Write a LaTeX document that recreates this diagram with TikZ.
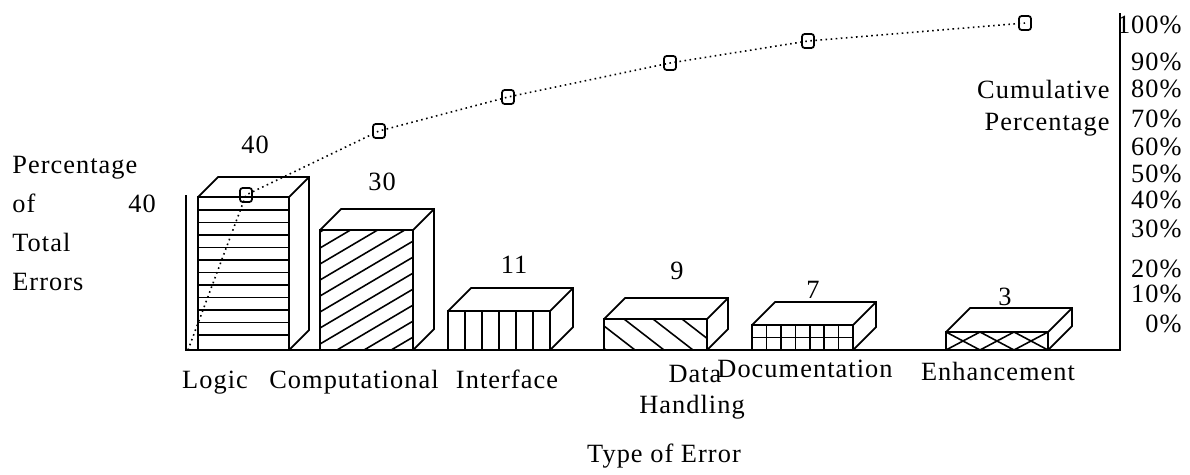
\documentclass[tikz,border=0pt]{standalone}
\usepackage{fontspec}
\setmainfont{Liberation Serif}[LetterSpace=4]
\begin{document}
\begin{tikzpicture}[
    x=0.02cm, y=-0.02cm,
    font=\fontsize{15}{18}\selectfont,
    axis/.style={line width=1pt},
    barline/.style={line width=1pt, line join=miter},
    fillline/.style={line width=0.9pt},
    cumline/.style={line width=0.9pt, dotted},
    cumpt/.style={draw, line width=1pt, rounded corners=1.5pt,
                  minimum width=0.24cm, minimum height=0.28cm, inner sep=0pt},
    val/.style={inner sep=0pt},
    cat/.style={anchor=base, inner sep=0pt},
    lbl/.style={anchor=base west, inner sep=0pt},
    pct/.style={anchor=base east, inner sep=0pt},
  ]
  \useasboundingbox (0,0) rectangle (1190,474);

  % fill patterns of the front faces
  \begin{scope}[fillline]
    \foreach \y in {210,222.5,...,346} \draw (198,\y) -- (289,\y);
    \begin{scope}
      \clip (320,230) rectangle (413,350);
      \foreach \k in {0,...,11} \draw (320,232+16*\k) -- ++(100,-59);
    \end{scope}
    \foreach \x in {465,482,499,516,533} \draw (\x,311) -- (\x,350);
    \begin{scope}
      \clip (604,319) rectangle (707,350);
      \foreach \x in {566,595,...,710} \draw (\x,319) -- ++(40,31);
    \end{scope}
    \draw (752,337.5) -- (853,337.5);
    \foreach \k in {1,...,6} \draw (752+14.43*\k,325) -- (752+14.43*\k,350);
    \foreach \k in {0,1,2} {
      \draw (946+34*\k,332) -- (980+34*\k,350);
      \draw (946+34*\k,350) -- (980+34*\k,332);
    }
  \end{scope}

  % boxes
  \foreach \xl/\xr/\yt/\d in {198/289/197/20, 320/413/230/21, 448/550/311/23,
                              604/707/319/21, 752/853/325/23, 946/1048/332/24} {
    \draw[barline] (\xl,350) rectangle (\xr,\yt);
    \draw[barline] (\xl,\yt) -- ++(\d,-\d) -- (\xr+\d,\yt-\d)
                   -- (\xr+\d,350-\d) -- (\xr,350);
    \draw[barline] (\xr,\yt) -- ++(\d,-\d);
  }

  % axes
  \draw[axis] (186,195) -- (186,350) -- (1120,350) -- (1120,13);

  % values
  \node[val] (v1) at (255,145) {40};
  \node[val] (v2) at (382,182) {30};
  \node[val] (v3) at (514,265) {11};
  \node[val] (v4) at (677,271) {9};
  \node[val] (v5) at (813,290) {7};
  \node[val] (v6) at (1005,297) {3};

  % cumulative curve
  \coordinate (o) at (188,350);
  \foreach \x/\y [count=\i] in {246/195, 379/131, 508/97, 670/63, 808/41, 1025/23}
    \node[cumpt] (c\i) at (\x,\y) {};
  \draw[cumline] (o) -- (c1.center) -- (c2.center) -- (c3.center)
                 -- (c4.center) -- (c5.center) -- (c6.center);

  % left axis text
  \foreach \t/\y [count=\i] in {Percentage/173, of/212, Total/251, Errors/290}
    \node[lbl] (ylab\i) at (12,\y) {\t};
  \node[val, anchor=base] (ymax) at (142,212) {40};

  % right axis text
  \foreach \p/\y in {100/33, 90/70, 80/97, 70/127, 60/155, 50/182,
                     40/208, 30/237, 20/277, 10/302, 0/332}
    \node[pct] (p\p) at (1182,\y) {\p\%};
  \node[pct] (cum1) at (1110,98) {Cumulative};
  \node[pct] (cum2) at (1110,130) {Percentage};

  % categories
  \node[cat] (logic) at (215,388) {Logic};
  \node[cat] (comp) at (354,388) {Computational};
  \node[cat] (inter) at (507,388) {Interface};
  \node[cat] (data1) at (695,382) {Data};
  \node[cat] (data2) at (692,413) {Handling};
  \node[cat] (doc) at (805,377) {Documentation};
  \node[cat] (enh) at (998,380) {Enhancement};
  \node[cat] (xlab) at (664,462) {Type of Error};
\end{tikzpicture}
\end{document}
